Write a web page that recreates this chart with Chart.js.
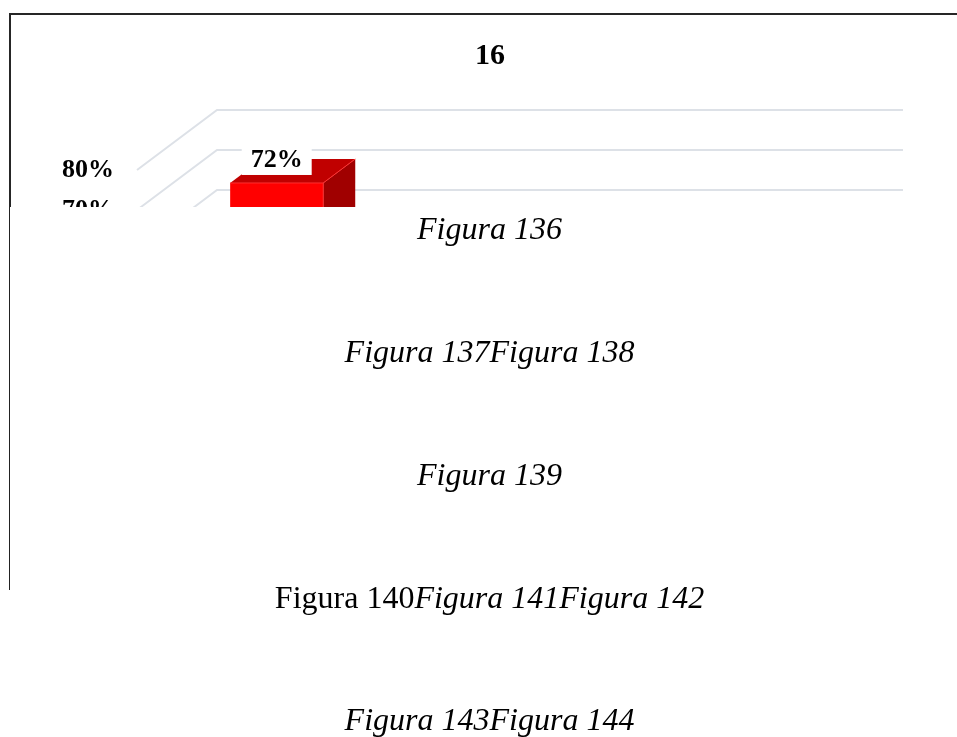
<!DOCTYPE html>
<html lang="es">
<head>
<meta charset="utf-8">
<title>16</title>
<script src="https://cdn.jsdelivr.net/npm/chart.js@4"></script>
<style>
  html, body { margin: 0; padding: 0; background: #fff; overflow: hidden; width: 957px; height: 737px; }
  #wrap { position: relative; width: 957px; height: 737px; }
  #chart { position: absolute; left: 0; top: 0; }
  #sheet { position: absolute; left: 9px; top: 207px; right: 0; bottom: 0; background: #fff; }
  #rule { position: absolute; left: 0; top: 0; width: 1px; height: 383px; background: #222; }
  .cap { position: absolute; left: -9px; width: 979px; text-align: center; white-space: nowrap;
         font-family: "Liberation Serif", "Times New Roman", serif; font-size: 32px; line-height: 32px; color: #000; }
  .it { font-style: italic; }
</style>
</head>
<body>
<div id="wrap">
  <canvas id="chart" width="957" height="737"></canvas>
  <div id="sheet">
    <div id="rule"></div>
    <div class="cap it" style="top:5px">Figura 136</div>
    <div class="cap it" style="top:128px">Figura 137Figura 138</div>
    <div class="cap it" style="top:251px">Figura 139</div>
    <div class="cap" style="top:374px">Figura 140<span class="it">Figura 141Figura 142</span></div>
    <div class="cap it" style="top:496px">Figura 143Figura 144</div>
  </div>
</div>
<script>
// Chart content
const chartTitle = '16';
const categories = ['', '', ''];
const percentValues = [72, null, null];
const tickLabels = ['0%', '10%', '20%', '30%', '40%', '50%', '60%', '70%', '80%'];

// Pseudo-3D geometry: depth of the plot box and where the bars sit inside it
const DEPTH_X = 80, DEPTH_Y = 60;
const BAR_FRONT = 0.317, BAR_DEPTH = 0.4;
const SERIF = '"Liberation Serif", "Times New Roman", serif';

const box3d = {
  id: 'box3d',
  beforeDraw(chart) {
    const ctx = chart.ctx;
    ctx.save();
    ctx.strokeStyle = '#262626';
    ctx.lineWidth = 2;
    ctx.beginPath();
    ctx.moveTo(10, chart.height);
    ctx.lineTo(10, 14);
    ctx.lineTo(chart.width, 14);
    ctx.stroke();
    ctx.restore();
  },
  beforeDatasetsDraw(chart) {
    const ctx = chart.ctx, y = chart.scales.y, area = chart.chartArea;
    ctx.save();
    ctx.strokeStyle = '#DDE1E7';
    ctx.lineWidth = 2;
    y.ticks.forEach(t => {
      const py = y.getPixelForValue(t.value);
      ctx.beginPath();
      ctx.moveTo(area.left, py);
      ctx.lineTo(area.left + DEPTH_X, py - DEPTH_Y);
      ctx.lineTo(area.right + DEPTH_X, py - DEPTH_Y);
      ctx.stroke();
    });
    ctx.restore();
    ctx.save();
    ctx.translate(BAR_FRONT * DEPTH_X, -BAR_FRONT * DEPTH_Y);
  },
  afterDatasetsDraw(chart) {
    const ctx = chart.ctx;
    const bx = BAR_DEPTH * DEPTH_X, by = BAR_DEPTH * DEPTH_Y;
    const meta = chart.getDatasetMeta(0);
    const bars = [];
    meta.data.forEach((el, i) => {
      const v = percentValues[i];
      if (v === null || v === undefined) return;
      const p = el.getProps(['x', 'y', 'base', 'width'], true);
      const l = p.x - p.width / 2, r = p.x + p.width / 2;
      // top face
      ctx.fillStyle = '#C00000';
      ctx.beginPath();
      ctx.moveTo(l, p.y); ctx.lineTo(r, p.y); ctx.lineTo(r + bx, p.y - by); ctx.lineTo(l + bx, p.y - by);
      ctx.closePath(); ctx.fill();
      // side face
      ctx.fillStyle = '#A00000';
      ctx.beginPath();
      ctx.moveTo(r, p.y); ctx.lineTo(r + bx, p.y - by); ctx.lineTo(r + bx, p.base - by); ctx.lineTo(r, p.base);
      ctx.closePath(); ctx.fill();
      // light edges
      ctx.strokeStyle = '#FF3030';
      ctx.lineWidth = 1;
      ctx.beginPath();
      ctx.moveTo(l, p.y); ctx.lineTo(r, p.y); ctx.lineTo(r + bx, p.y - by);
      ctx.moveTo(r, p.y); ctx.lineTo(r, p.base);
      ctx.stroke();
      bars.push({ x: p.x, y: p.y, v });
    });
    ctx.restore();
    // value labels
    const ox = BAR_FRONT * DEPTH_X, oy = -BAR_FRONT * DEPTH_Y;
    ctx.save();
    ctx.font = 'bold 26px ' + SERIF;
    ctx.textAlign = 'center';
    ctx.textBaseline = 'alphabetic';
    bars.forEach(b => {
      const cx = b.x + ox, top = b.y + oy - 35;
      ctx.fillStyle = '#fff';
      ctx.fillRect(cx - 35, top, 70, 27);
      ctx.fillStyle = '#000';
      ctx.fillText(b.v + '%', cx, top + 18.7);
    });
    ctx.restore();
  }
};

new Chart(document.getElementById('chart'), {
  type: 'bar',
  data: {
    labels: categories,
    datasets: [{
      data: percentValues,
      backgroundColor: '#FF0000',
      borderWidth: 0,
      barPercentage: 0.407,
      categoryPercentage: 1
    }]
  },
  options: {
    responsive: false,
    animation: false,
    layout: { padding: { left: 23, right: 0, top: 0, bottom: 247 } },
    plugins: {
      legend: { display: false },
      tooltip: { enabled: false },
      title: {
        display: true,
        text: chartTitle,
        color: '#000',
        font: { family: SERIF, size: 30, weight: 'bold', lineHeight: 1.2 },
        padding: { top: 38, bottom: 96 }
      }
    },
    scales: {
      x: { display: false, offset: true, grid: { display: false } },
      y: {
        min: 0, max: 80,
        position: 'left',
        ticks: {
          stepSize: 10,
          padding: 23,
          color: '#000',
          font: { family: SERIF, size: 26, weight: 'bold' },
          callback: (v) => tickLabels[Math.round(v / 10)]
        },
        grid: { display: false, drawTicks: false },
        border: { display: false },
        afterFit(s) { s.width = 114; }
      },
      yR: {
        position: 'right',
        display: true,
        ticks: { display: false },
        grid: { display: false, drawTicks: false },
        border: { display: false },
        afterFit(s) { s.width = 134; }
      }
    }
  },
  plugins: [box3d]
});
</script>
</body>
</html>
